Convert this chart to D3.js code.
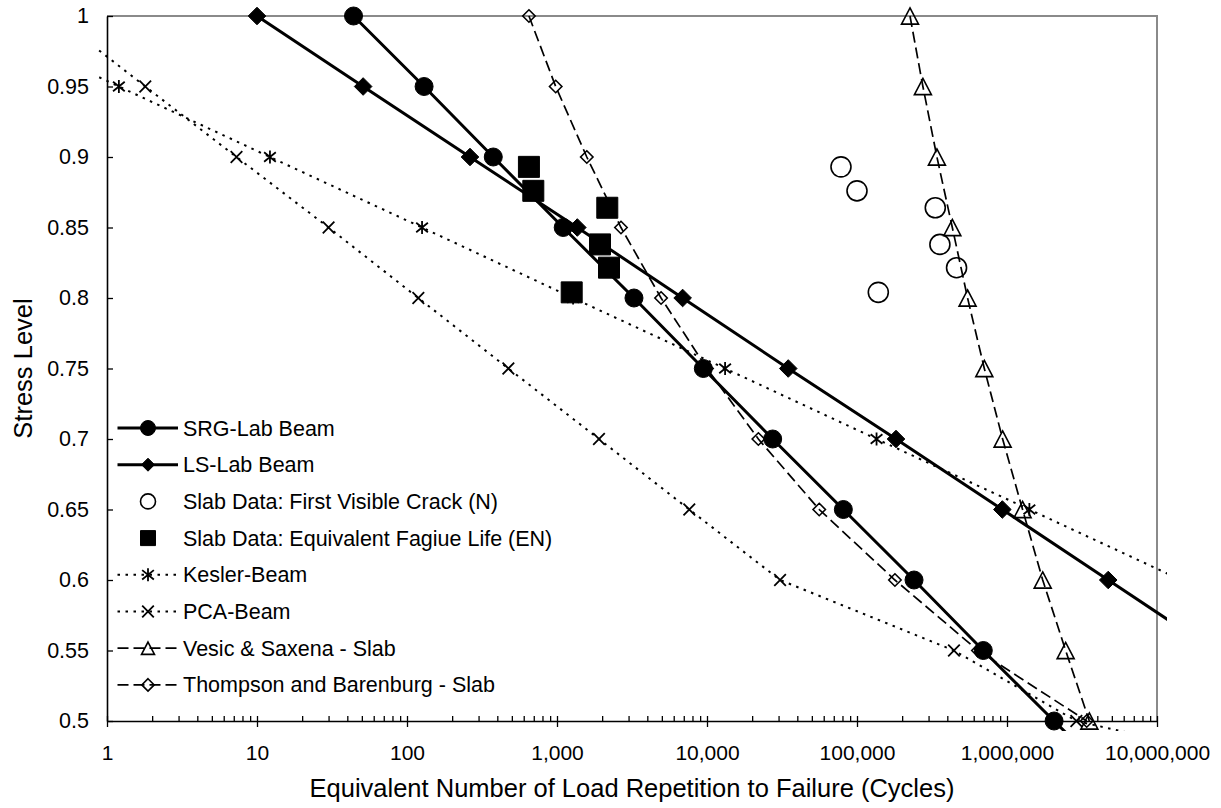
<!DOCTYPE html>
<html lang="en">
<head>
<meta charset="UTF-8">
<title>Stress Level vs Load Repetitions</title>
<script src="https://d3js.org/d3.v7.min.js"></script>
<style>
  body { margin: 0; background: #fff; }
  svg { font-family: "Liberation Sans", Arial, sans-serif; }
</style>
</head>
<body>
<script>
// ticks
const xTicks = [1, 10, 100, 1000, 10000, 100000, 1000000, 10000000];
const yTicks = [0.5, 0.55, 0.6, 0.65, 0.7, 0.75, 0.8, 0.85, 0.9, 0.95, 1];

// series (N = cycles, S = stress level)
const srgS = [1, 0.95, 0.9, 0.85, 0.8, 0.75, 0.7, 0.65, 0.6, 0.55, 0.5, 0.45];
const srgN = [44, 130, 376, 1100, 3260, 9450, 27400, 81100, 240000, 695000, 2060000, 6200000];

const lsS = [1, 0.95, 0.9, 0.85, 0.8, 0.75, 0.7, 0.65, 0.6, 0.55];
const lsN = [10, 51, 263, 1366, 6880, 34800, 182000, 931000, 4730000, 24000000];

const crackS = [0.893, 0.876, 0.864, 0.838, 0.8215, 0.804];
const crackN = [78200, 100000, 332600, 357000, 461000, 138700];

const enS = [0.893, 0.876, 0.864, 0.838, 0.8215, 0.804];
const enN = [650, 695, 2164, 1935, 2222, 1253];

const keslerS = [1, 0.95, 0.9, 0.85, 0.8, 0.75, 0.7, 0.65, 0.6];
const keslerN = [0.12, 1.2, 12.2, 126, 1280, 13200, 135000, 1410000, 14500000];

const pcaS = [1, 0.95, 0.9, 0.85, 0.8, 0.75, 0.7, 0.65, 0.6, 0.55, 0.5, 0.45];
const pcaN = [0.45, 1.8, 7.3, 30, 119, 474, 1905, 7620, 30700, 443000, 2900000, 350000000];

const vesicS = [1, 0.95, 0.9, 0.85, 0.8, 0.75, 0.7, 0.65, 0.6, 0.55, 0.5];
const vesicN = [225600, 275000, 341000, 432000, 546000, 706000, 935000, 1270000, 1730000, 2460000, 3540000];

const thompS = [1, 0.95, 0.9, 0.85, 0.8, 0.75, 0.7, 0.65, 0.6, 0.55, 0.5];
const thompN = [650, 980, 1580, 2670, 4940, 10000, 22000, 56000, 179000, 640000, 3400000];

const zip = (n, s) => n.map((v, i) => [v, s[i]]);

const series = [
  { name: "SRG-Lab Beam", data: zip(srgN, srgS), line: "solid", marker: "circle", size: 9, filled: true },
  { name: "LS-Lab Beam", data: zip(lsN, lsS), line: "solid", marker: "diamond", size: 8.8, filled: true },
  { name: "Slab Data: First Visible Crack (N)", data: zip(crackN, crackS), line: null, marker: "circle", size: 10, filled: false },
  { name: "Slab Data: Equivalent Fagiue Life (EN)", data: zip(enN, enS), line: null, marker: "square", size: 10.5, filled: true },
  { name: "Kesler-Beam", data: zip(keslerN, keslerS), line: "dot", marker: "star", size: 6.5, filled: false },
  { name: "PCA-Beam", data: zip(pcaN, pcaS), line: "dot", marker: "x", size: 5.8, filled: false },
  { name: "Vesic & Saxena - Slab", data: zip(vesicN, vesicS), line: "dash", marker: "triangle", size: 8.5, filled: false },
  { name: "Thompson and Barenburg - Slab", data: zip(thompN, thompS), line: "dash", marker: "diamond", size: 6.2, filled: false }
];

const width = 1221, height = 808;
const mLeft = 107, mRight = 1157, mTop = 16, mBottom = 721;

const x = d3.scaleLog().domain([1, 1e7]).range([mLeft, mRight]);
const y = d3.scaleLinear().domain([0.5, 1]).range([mBottom, mTop]);

const svg = d3.select("body").append("svg")
  .attr("width", width)
  .attr("height", height);

svg.append("rect").attr("width", width).attr("height", height).attr("fill", "#fff");

function markerPath(type, s) {
  if (type === "circle") return `M${-s},0A${s},${s} 0 1,0 ${s},0A${s},${s} 0 1,0 ${-s},0Z`;
  if (type === "square") return `M${-s},${-s}H${s}V${s}H${-s}Z`;
  if (type === "diamond") return `M0,${-s}L${s},0L0,${s}L${-s},0Z`;
  if (type === "triangle") return `M0,${-s * 0.95}L${s},${s * 0.95}L${-s},${s * 0.95}Z`;
  if (type === "star") {
    const d = s * 0.9;
    return `M0,${-s}V${s}M${-d},${-d * 0.8}L${d},${d * 0.8}M${-d},${d * 0.8}L${d},${-d * 0.8}`;
  }
  if (type === "x") return `M${-s},${-s}L${s},${s}M${-s},${s}L${s},${-s}`;
}

function styleLine(sel, kind) {
  sel.attr("fill", "none").attr("stroke", "#000");
  if (kind === "solid") sel.attr("stroke-width", 3).attr("stroke-linejoin", "round");
  if (kind === "dot") sel.attr("stroke-width", 2).attr("stroke-dasharray", "2.5,5.5");
  if (kind === "dash") sel.attr("stroke-width", 1.7).attr("stroke-dasharray", "11,5");
}

function styleMarker(sel, s) {
  const open = s.marker === "star" || s.marker === "x";
  sel.attr("d", markerPath(s.marker, s.size))
    .attr("fill", s.filled ? "#000" : "none")
    .attr("stroke", "#000")
    .attr("stroke-width", s.filled ? 1 : (open ? 1.8 : 1.6));
}

// plot border (top / right in grey)
svg.append("path")
  .attr("d", `M${mLeft},${mTop}H${mRight}V${mBottom}`)
  .attr("fill", "none")
  .attr("stroke", "#8a8a8a")
  .attr("stroke-width", 2);

// x axis: minor ticks inside
const minors = [];
for (let e = 0; e < 7; e++) for (let m = 2; m < 10; m++) minors.push(m * Math.pow(10, e));

svg.append("g")
  .attr("transform", `translate(0,${mBottom})`)
  .call(d3.axisBottom(x).tickValues(minors).tickSize(-5).tickFormat(""))
  .call(g => g.select(".domain").remove())
  .call(g => g.selectAll("line").attr("stroke", "#000").attr("stroke-width", 1.3));

const xAxis = svg.append("g")
  .attr("transform", `translate(0,${mBottom})`)
  .call(d3.axisBottom(x).tickValues(xTicks).tickFormat(d3.format(",")).tickSizeInner(6).tickSizeOuter(0).tickPadding(18));
xAxis.select(".domain").attr("stroke", "#000").attr("stroke-width", 1.6);
xAxis.selectAll("line").attr("y1", -5).attr("stroke", "#000").attr("stroke-width", 1.3);
xAxis.selectAll("text").attr("font-size", 21).attr("fill", "#000").attr("font-family", null);

// y axis
const yAxis = svg.append("g")
  .attr("transform", `translate(${mLeft},0)`)
  .call(d3.axisLeft(y).tickValues(yTicks).tickFormat(d3.format("~g")).tickSizeInner(-6).tickSizeOuter(0).tickPadding(18));
yAxis.select(".domain").attr("stroke", "#000").attr("stroke-width", 1.6);
yAxis.selectAll("line").attr("stroke", "#000").attr("stroke-width", 1.3);
yAxis.selectAll("text").attr("font-size", 21.5).attr("fill", "#000").attr("font-family", null);

// titles
svg.append("text")
  .attr("x", (mLeft + mRight) / 2)
  .attr("y", 797)
  .attr("text-anchor", "middle")
  .attr("font-size", 25.5)
  .text("Equivalent Number of Load Repetition to Failure (Cycles)");

svg.append("text")
  .attr("transform", `translate(32,${(mTop + mBottom) / 2}) rotate(-90)`)
  .attr("text-anchor", "middle")
  .attr("font-size", 25.5)
  .text("Stress Level");

// series, clipped to a slightly larger box than the axes
svg.append("clipPath").attr("id", "clip")
  .append("rect")
  .attr("x", mLeft - 9).attr("y", mTop - 12)
  .attr("width", mRight - mLeft + 19).attr("height", mBottom - mTop + 22);

const plot = svg.append("g").attr("clip-path", "url(#clip)");

const line = d3.line().x(d => x(d[0])).y(d => y(d[1]));

series.filter(s => s.line).forEach(s => {
  plot.append("path").datum(s.data).attr("d", line).call(styleLine, s.line);
});

series.forEach(s => {
  plot.append("g").selectAll("path")
    .data(s.data)
    .join("path")
    .attr("transform", d => `translate(${x(d[0])},${y(d[1])})`)
    .call(styleMarker, s);
});

// legend
const legend = svg.append("g");
series.forEach((s, i) => {
  const ly = 428 + i * 36.7;
  const g = legend.append("g").attr("transform", `translate(0,${ly})`);
  if (s.line) {
    g.append("path").attr("d", "M117.5,0H178").call(styleLine, s.line);
  }
  const m = Object.assign({}, s, { size: Math.min(s.size, s.marker === "circle" || s.marker === "square" ? 7.5 : 6.5) });
  g.append("path").attr("transform", "translate(148,0)").call(styleMarker, m);
  g.append("text")
    .attr("x", 183)
    .attr("dy", "0.35em")
    .attr("font-size", 21.5)
    .text(s.name);
});
</script>
</body>
</html>
